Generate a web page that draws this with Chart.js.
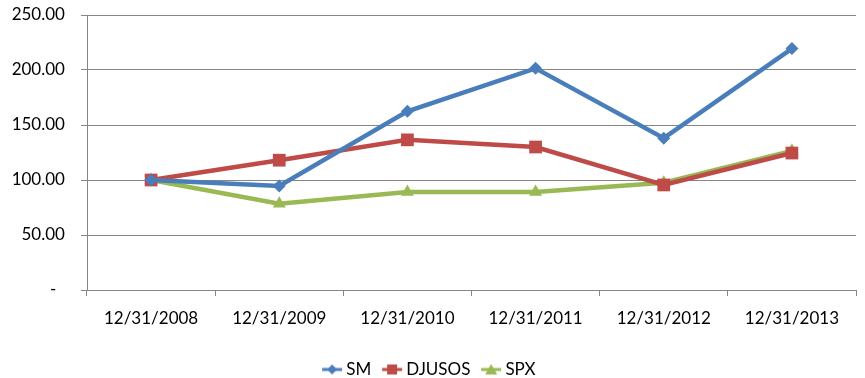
<!DOCTYPE html>
<html><head><meta charset="utf-8">
<script src="https://cdn.jsdelivr.net/npm/chart.js@4"></script>
<style>html,body{margin:0;padding:0;background:#fff;}#wrap{width:865px;height:378px;}</style>
</head><body><div id="wrap"><canvas id="c" width="865" height="378"></canvas></div>
<script>
const categories = ['12/31/2008','12/31/2009','12/31/2010','12/31/2011','12/31/2012','12/31/2013'];
const smValues = [100, 94.5, 162.5, 201.5, 138, 219.5];
const djusosValues = [100, 118, 136.5, 130, 95.5, 124.5];
const spxValues = [100, 78.5, 89, 89, 97.5, 126.5];
const yTicks = [0, 50, 100, 150, 200, 250];

const FONT = 'Lato, "Open Sans", sans-serif';
const colors = {SM:'#4A7EBB', DJUSOS:'#BE4B48', SPX:'#98B954'};

function legendIcon(color, style){
  const cv = document.createElement('canvas');
  cv.width = 24; cv.height = 12;
  const g = cv.getContext('2d');
  g.strokeStyle = color; g.fillStyle = color; g.lineWidth = 3;
  g.beginPath(); g.moveTo(2,6); g.lineTo(22,6); g.stroke();
  g.beginPath();
  if(style==='diamond'){ g.moveTo(12,1); g.lineTo(17,6); g.lineTo(12,11); g.lineTo(7,6); g.closePath(); }
  else if(style==='rect'){ g.rect(7,1,10,10); }
  else { g.moveTo(12,0.5); g.lineTo(18,11); g.lineTo(6,11); g.closePath(); }
  g.fill();
  return cv;
}

const ds = [
  {label:'SM', data:smValues, borderColor:colors.SM, backgroundColor:colors.SM, pointStyle:'rectRot', pointRadius:6.5, icon:legendIcon(colors.SM,'diamond')},
  {label:'DJUSOS', data:djusosValues, borderColor:colors.DJUSOS, backgroundColor:colors.DJUSOS, pointStyle:'rect', pointRadius:9, icon:legendIcon(colors.DJUSOS,'rect')},
  {label:'SPX', data:spxValues, borderColor:colors.SPX, backgroundColor:colors.SPX, pointStyle:'triangle', pointRadius:7.5, icon:legendIcon(colors.SPX,'tri')}
].map(d=>Object.assign({borderWidth:4.5, pointBorderWidth:0, tension:0, fill:false}, d));

const legendShift = {
  id:'legendShift',
  afterLayout(chart){
    const l = chart.legend;
    const target = 367;
    const cur = (l.top + l.bottom)/2;
    const d = target - cur;
    l.top += d; l.bottom += d;
  }
};

new Chart(document.getElementById('c'), {
  type:'line',
  data:{labels:categories, datasets:ds},
  plugins:[legendShift],
  options:{
    responsive:false, animation:false,
    layout:{padding:{top:15, right:3, left:0, bottom:0}},
    plugins:{
      tooltip:{enabled:false},
      legend:{
        position:'bottom',
        labels:{
          usePointStyle:true, pointStyleWidth:11.5, color:'#000', font:{family:FONT, size:17}, padding:15,
          generateLabels(chart){
            return chart.data.datasets.map((d,i)=>({text:d.label, pointStyle:d.icon, fillStyle:d.borderColor, strokeStyle:d.borderColor, lineWidth:0, datasetIndex:i, fontColor:'#000'}));
          }
        }
      }
    },
    scales:{
      x:{
        offset:true,
        grid:{display:true, drawOnChartArea:false, drawTicks:true, tickLength:6, color:'#868686', offset:true},
        border:{display:true, color:'#868686', width:1},
        ticks:{color:'#000', font:{family:FONT, size:17}, padding:12, maxRotation:0},
        afterFit(s){ s.height = 46; }
      },
      y:{
        min:0, max:250,
        afterBuildTicks(s){ s.ticks = yTicks.map(v=>({value:v})); },
        grid:{color:'#868686', lineWidth:1, tickLength:6, drawTicks:true},
        border:{display:true, color:'#868686', width:1},
        ticks:{color:'#000', font:{family:FONT, size:17}, padding:3,
          callback:(v)=> v===0 ? '-     ' : v.toFixed(2) + '   '},
        afterFit(s){ s.width = 87; }
      }
    }
  }
});
</script></body></html>
